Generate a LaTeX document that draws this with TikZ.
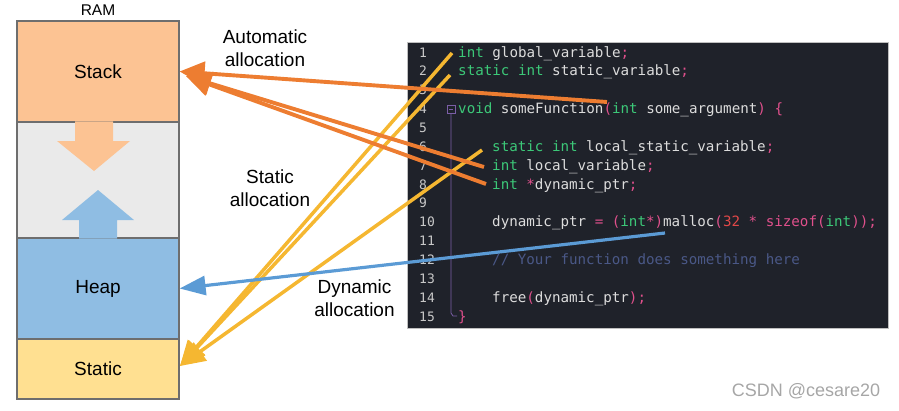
\documentclass[tikz,border=0pt]{standalone}
\usepackage{fontspec}
\setmainfont{Liberation Sans}
\newfontfamily\codefont{DejaVu Sans Mono}
\usetikzlibrary{arrows.meta}
\definecolor{stackc}{HTML}{FCC393}
\definecolor{gapc}{HTML}{EAEAEA}
\definecolor{heapc}{HTML}{8FBDE3}
\definecolor{staticc}{HTML}{FFE091}
\definecolor{borderc}{HTML}{6E6E6E}
\definecolor{panelc}{HTML}{1F222A}
\definecolor{kwc}{HTML}{3CC878}
\definecolor{idc}{HTML}{DCDCDC}
\definecolor{pkc}{HTML}{E0508C}
\definecolor{numc}{HTML}{E04848}
\definecolor{cmc}{HTML}{4A5887}
\definecolor{lnc}{HTML}{C8C8C8}
\definecolor{foldc}{HTML}{7B5EA7}
\definecolor{autoc}{HTML}{ED7D31}
\definecolor{statc}{HTML}{F5B731}
\definecolor{dync}{HTML}{5B9BD5}
\newcommand{\kw}[1]{\textcolor{kwc}{#1}}
\newcommand{\idn}[1]{\textcolor{idc}{#1}}
\newcommand{\pk}[1]{\textcolor{pkc}{#1}}
\begin{document}
\begin{tikzpicture}[x=1pt,y=-1pt,
  rambox/.style={draw=borderc, line width=1.2pt, minimum width=162pt, inner sep=0pt,
     font=\fontsize{19}{22}\selectfont},
  lbl/.style={align=center, font=\fontsize{19}{23}\selectfont},
  codeline/.style={anchor=base west, inner sep=0pt, text=idc, font=\codefont\fontsize{14.2}{16}\selectfont},
  lnum/.style={anchor=base west, inner sep=0pt, text=lnc, font=\codefont\fontsize{13}{16}\selectfont},
  autoarrow/.style={draw=autoc, line width=3.9pt, -{Triangle[length=25pt,width=23pt]}},
  statarrow/.style={draw=statc, line width=3.5pt, -{Triangle[length=25pt,width=22pt]}},
  dynarrow/.style={draw=dync, line width=3.2pt, -{Triangle[length=26pt,width=19pt]}}]
\useasboundingbox (0,0) rectangle (899,410);

% RAM column
\node[font=\fontsize{15.5}{18}\selectfont] (ram) at (98,10) {RAM};
\node[rambox, fill=stackc, minimum height=101pt] (stack) at (98,71.5) {Stack};
\node[rambox, fill=gapc, minimum height=116pt] (gap) at (98,180) {};
\node[rambox, fill=heapc, minimum height=101pt] (heap) at (98,288.5) {Heap};
\node[rambox, fill=staticc, minimum height=60pt] (static) at (98,369) {Static};
\fill[stackc] (75,121.4) -- (113,121.4) -- (113,141) -- (130,141) -- (94,171) -- (57,141) -- (75,141) -- cycle;
\fill[heapc] (79,238.6) -- (79,220) -- (62,220) -- (98,190) -- (134,220) -- (117,220) -- (117,238.6) -- cycle;

% code panel
\node[draw=gray!50, line width=0.6pt, fill=panelc, minimum width=481pt, minimum height=286pt, inner sep=0pt] (panel) at (647.5,185) {};

\foreach \n in {1,...,15} {
  \node[lnum] (ln\n) at (419,{52+(\n-1)*18.86+5}) {\n};
}
\node[codeline] (c1) at (458,57) {\kw{int} global\_variable\pk{;}};
\node[codeline] (c2) at (458,75.86) {\kw{static} \kw{int} static\_variable\pk{;}};
\node[codeline] (c4) at (458,113.58) {\kw{void} someFunction\pk{(}\kw{int} some\_argument\pk{)} \pk{\{}};
\node[codeline] (c6) at (492,151.3) {\kw{static} \kw{int} local\_static\_variable\pk{;}};
\node[codeline] (c7) at (492,170.16) {\kw{int} local\_variable\pk{;}};
\node[codeline] (c8) at (492,189.02) {\kw{int} \pk{*}dynamic\_ptr\pk{;}};
\node[codeline] (c10) at (492,226.74) {dynamic\_ptr \pk{=} \pk{(}\kw{int}\pk{*)}malloc\pk{(}\textcolor{numc}{32} \pk{*} \pk{sizeof(}\kw{int}\pk{));}};
\node[codeline, text=cmc] (c12) at (492,264.46) {// Your function does something here};
\node[codeline] (c14) at (492,302.18) {free\pk{(}dynamic\_ptr\pk{);}};
\node[codeline] (c15) at (458,321.04) {\pk{\}}};
% fold marker
\draw[foldc, line width=0.8pt] (447,105) rectangle (455,113);
\draw[foldc, line width=0.8pt] (449,109) -- (453,109);
\draw[foldc, line width=0.8pt] (451,113) -- (451,313) -- (453,316) -- (457,316);

% connector end points
\coordinate (a1) at (607,102);
\coordinate (a2) at (484,167);
\coordinate (a3) at (486,184);
\coordinate (stk2) at (186,76);
\coordinate (s1) at (452,53);
\coordinate (s2) at (450,75);
\coordinate (s3) at (482,150);
\coordinate (stt) at (180,366);
\coordinate (d1) at (665,233);

% labels
\node[lbl] (autolbl) at (265,48.5) {Automatic\\allocation};
\node[lbl] (statlbl) at (270,188.5) {Static\\allocation};
\node[lbl] (dynlbl) at (354.5,298.5) {Dynamic\\allocation};

% arrows
\draw[statarrow] (s1) -- (stt);
\draw[statarrow] (s2) -- (stt);
\draw[statarrow] (s3) -- (stt);
\draw[autoarrow] (a1) -- (stack.east);
\draw[autoarrow] (a2) -- (stk2);
\draw[autoarrow] (a3) -- (stk2);
\draw[dynarrow] (d1) -- (heap.east);

% watermark
\node[text=gray!70, font=\fontsize{18}{20}\selectfont] (wm) at (806,391) {CSDN @cesare20};
\end{tikzpicture}
\end{document}
